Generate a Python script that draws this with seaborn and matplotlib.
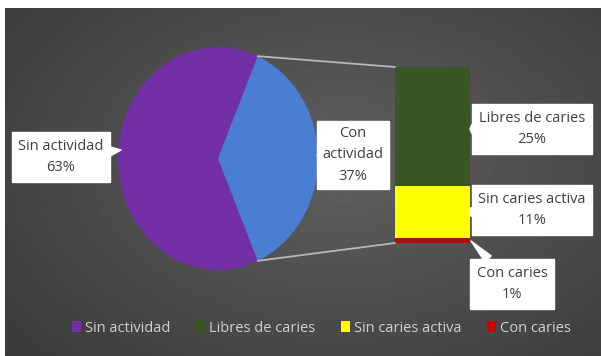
import numpy as np
import pandas as pd
import matplotlib
matplotlib.use("Agg")
import matplotlib.pyplot as plt
from matplotlib.patches import Patch, ConnectionPatch
import seaborn as sns

# ---- data ----
pie_labels = ["Sin actividad", "Con actividad"]
pie_values = [63, 37]
bar_labels = ["Libres de caries", "Sin caries activa", "Con caries"]
bar_values = [25, 11, 1]

pie_colors = ["#7330a6", "#4a7ed3"]
bar_colors = ["#385723", "#ffff00", "#b00c0c"]
legend_colors = ["#7330a6", "#385723", "#ffff00", "#d00000"]

sns.set_theme(style="white")
FONT = ["Liberation Sans Narrow", "Open Sans", "DejaVu Sans"]
plt.rcParams["font.family"] = FONT

W, H = 601, 356
fig = plt.figure(figsize=(W / 100, H / 100), dpi=100)
fig.patch.set_facecolor("white")


def box(x0, y0, x1, y1):
    return [x0 / W, 1 - y1 / H, (x1 - x0) / W, (y1 - y0) / H]


# ---- background gradient ----
bg = fig.add_axes([0, 0, 1, 1])
bg.set_xlim(0, W)
bg.set_ylim(H, 0)
bg.axis("off")
yy, xx = np.mgrid[0:200, 0:340]
cx, cy = 190, 90
r = np.sqrt(((xx - cx) / 260) ** 2 + ((yy - cy) / 170) ** 2)
val = 0.375 - 0.15 * np.clip(r, 0, 1.2)
bg.imshow(val, cmap="gray", vmin=0, vmax=1, extent=(5, W, H, 8),
          aspect="auto", interpolation="bilinear")

# ---- pie (elliptical) ----
pax = fig.add_axes(box(118, 47, 318, 270))
start = pie_values[1] / sum(pie_values) * 360 / 2
pax.pie(pie_values, colors=pie_colors, startangle=start, counterclock=True,
        wedgeprops=dict(linewidth=0))
pax.set_aspect("auto")
pax.set_xlim(-1, 1)
pax.set_ylim(-1, 1)
pax.axis("off")

# ---- stacked bar ----
bax = fig.add_axes(box(395, 67, 470, 243))
cum = np.cumsum(bar_values[::-1])[::-1]  # totals from top segment down
for c, col in zip(cum, bar_colors):
    sns.barplot(x=[0], y=[c], color=col, width=1.0, ax=bax,
                saturation=1, linewidth=0)
bax.set_xlim(-0.5, 0.5)
bax.set_ylim(0, sum(bar_values))
bax.axis("off")

# ---- overlay ----
ov = fig.add_axes([0, 0, 1, 1])
ov.set_xlim(0, W)
ov.set_ylim(H, 0)
ov.axis("off")
ov.patch.set_alpha(0)

th = np.deg2rad(start)
for sgn, ytop in [(1, sum(bar_values)), (-1, 0)]:
    con = ConnectionPatch(xyA=(np.cos(th), sgn * np.sin(th)), coordsA=pax.transData,
                          xyB=(-0.5, ytop), coordsB=bax.transData,
                          color="#b8b8b8", lw=1.3)
    ov.add_artist(con)

labels = [
    (f"{pie_labels[0]}\n{pie_values[0]}%", (61, 157), (121, 150), 0.45),
    ("Con\nactividad\n" + f"{pie_values[1]}%", (353, 155), (317, 155), 0.35),
    (f"{bar_labels[0]}\n{bar_values[0]}%", (532, 129), (470, 129), 0.45),
    (f"{bar_labels[1]}\n{bar_values[1]}%", (532, 210), (470, 212), 0.45),
    (f"{bar_labels[2]}\n{bar_values[2]}%", (512, 284), (471, 241), 0.45),
]
for txt, pos, tip, pad in labels:
    ov.annotate(txt, xy=tip, xytext=pos, ha="center", va="center",
                fontsize=10.5, color="#404040", linespacing=1.55,
                bbox=dict(boxstyle=f"square,pad={pad}", fc="white", ec="white"),
                arrowprops=dict(arrowstyle="wedge,tail_width=0.6,shrink_factor=0.5",
                                fc="white", ec="white", shrinkA=0, shrinkB=0))

# ---- legend ----
leg_labels = [pie_labels[0]] + bar_labels
handles = [Patch(facecolor=c, edgecolor="none") for c in legend_colors]
fig.legend(handles, leg_labels, loc="center", bbox_to_anchor=(0.535, 1 - 328 / H),
           ncol=4, frameon=False, fontsize=10.5, labelcolor="#d0d0d0",
           handlelength=0.6, handleheight=0.7, handletextpad=0.25,
           columnspacing=1.8)

fig.savefig("out.png", dpi=100, facecolor="white")
